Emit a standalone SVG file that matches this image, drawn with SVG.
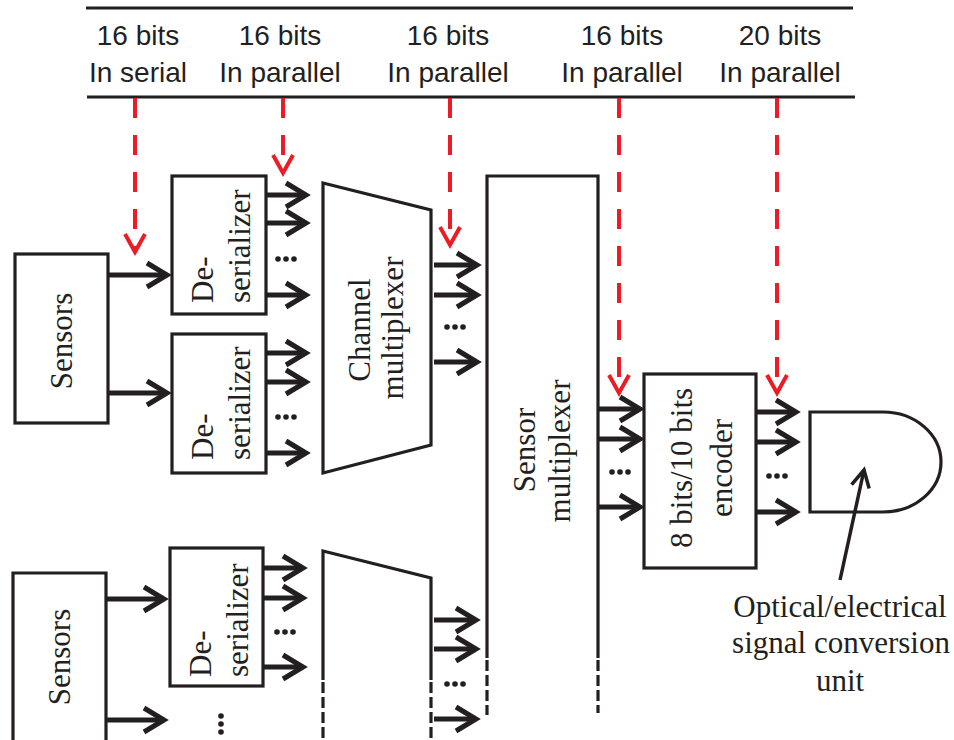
<svg xmlns="http://www.w3.org/2000/svg" width="954" height="740" viewBox="0 0 954 740">
<style>
.hdr{font-family:"Liberation Sans",Arial,sans-serif;font-size:28px;fill:#231f20;text-anchor:middle}
.lbl{font-family:"Liberation Serif","Times New Roman",serif;font-size:31px;fill:#231f20}
.mid{text-anchor:middle}
.st{text-anchor:start}
.box{fill:#fff;stroke:#231f20;stroke-width:3.2}
.ln{fill:none;stroke:#231f20;stroke-width:3.2}
.dsh{fill:none;stroke:#231f20;stroke-width:3.2;stroke-dasharray:11 4}
.arr{fill:none;stroke:#231f20;stroke-width:5;marker-end:url(#ah)}
.red{fill:none;stroke:#ed1c24;stroke-width:4;stroke-dasharray:20 17;marker-end:url(#rh)}
.dot{fill:#231f20}
</style>
<defs>
<marker id="ah" markerUnits="userSpaceOnUse" markerWidth="40" markerHeight="40" viewBox="-30 -20 40 40" refX="0" refY="0" orient="auto" overflow="visible">
<path d="M-20,-12 L0,0 L-20,12" fill="none" stroke="#231f20" stroke-width="5"/>
</marker>
<marker id="ah2" markerUnits="userSpaceOnUse" markerWidth="40" markerHeight="40" viewBox="-30 -20 40 40" refX="0" refY="0" orient="auto" overflow="visible">
<path d="M-17,-9 L0,0 L-17,9" fill="none" stroke="#231f20" stroke-width="3.5"/>
</marker>
<marker id="rh" markerUnits="userSpaceOnUse" markerWidth="40" markerHeight="40" viewBox="-30 -20 40 40" refX="0" refY="0" orient="auto" overflow="visible">
<path d="M-18,-10 L0,0 L-18,10" fill="none" stroke="#ed1c24" stroke-width="4"/>
</marker>
</defs>

<g id="header">
<line x1="86" y1="8" x2="853" y2="8" stroke="#231f20" stroke-width="3"/>
<line x1="87" y1="97" x2="855" y2="97" stroke="#231f20" stroke-width="3"/>
<text class="hdr" x="138" y="45">16 bits</text>
<text class="hdr" x="138" y="82">In serial</text>
<text class="hdr" x="280" y="45">16 bits</text>
<text class="hdr" x="280" y="82">In parallel</text>
<text class="hdr" x="448" y="45">16 bits</text>
<text class="hdr" x="448" y="82">In parallel</text>
<text class="hdr" x="622" y="45">16 bits</text>
<text class="hdr" x="622" y="82">In parallel</text>
<text class="hdr" x="780" y="45">20 bits</text>
<text class="hdr" x="780" y="82">In parallel</text>
</g>

<g id="sensors1">
<rect class="box" x="15" y="254" width="93" height="169"/>
<text class="lbl mid" transform="translate(72,341) rotate(-90)">Sensors</text>
</g>
<g id="deser1">
<rect class="box" x="172" y="176" width="94" height="138"/>
<text class="lbl st" transform="translate(213,303) rotate(-90)">De-</text>
<text class="lbl st" transform="translate(250,303) rotate(-90)">serializer</text>
</g>
<g id="deser2">
<rect class="box" x="172" y="334" width="94" height="139"/>
<text class="lbl st" transform="translate(213,460) rotate(-90)">De-</text>
<text class="lbl st" transform="translate(250,460) rotate(-90)">serializer</text>
</g>
<g id="chmux1">
<polygon class="box" points="323,183 431,210 431,445 323,473"/>
<text class="lbl mid" transform="translate(370,330) rotate(-90)">Channel</text>
<text class="lbl mid" transform="translate(403,328) rotate(-90)">multiplexer</text>
</g>
<g id="sensormux">
<path class="ln" d="M487,658 V176 H598 V658"/>
<path class="dsh" d="M487,660 V715 M598,660 V713"/>
<text class="lbl mid" transform="translate(535,450) rotate(-90)">Sensor</text>
<text class="lbl mid" transform="translate(570,451) rotate(-90)">multiplexer</text>
</g>
<g id="encoder">
<rect class="box" x="644" y="374" width="112" height="194"/>
<text class="lbl mid" transform="translate(692,468) rotate(-90)">8 bits/10 bits</text>
<text class="lbl mid" transform="translate(732,468) rotate(-90)">encoder</text>
</g>
<g id="oeunit">
<path class="box" d="M810,412 H883 A58,50 0 0 1 883,512 H810 Z"/>
<text class="lbl mid" x="840" y="617">Optical/electrical</text>
<text class="lbl mid" x="841" y="653">signal conversion</text>
<text class="lbl mid" x="840" y="691">unit</text>
</g>
<g id="sensors2">
<path class="box" d="M13,745 V573 H106 V745"/>
<text class="lbl mid" transform="translate(70,657) rotate(-90)">Sensors</text>
</g>
<g id="deser3">
<rect class="box" x="170" y="548" width="93" height="138"/>
<text class="lbl st" transform="translate(211,677) rotate(-90)">De-</text>
<text class="lbl st" transform="translate(248,677) rotate(-90)">serializer</text>
</g>
<g id="chmux2">
<path class="ln" d="M323,680 V551 L431,578 V680"/>
<path class="dsh" d="M323,682 V740 M431,682 V740"/>
</g>

<g id="connectors">
<line class="red" x1="135" y1="98" x2="135" y2="252"/>
<line class="red" x1="283" y1="98" x2="283" y2="173"/>
<line class="red" x1="450" y1="98" x2="450" y2="245"/>
<line class="red" x1="619" y1="98" x2="619" y2="393"/>
<line class="red" x1="777" y1="98" x2="777" y2="393"/>

<line class="arr" x1="108" y1="275" x2="167" y2="275"/>
<line class="arr" x1="108" y1="393" x2="167" y2="393"/>
<line class="arr" x1="266" y1="195" x2="306" y2="195"/>
<line class="arr" x1="266" y1="223" x2="306" y2="223"/>
<line class="arr" x1="266" y1="295" x2="306" y2="295"/>
<line class="arr" x1="266" y1="353" x2="306" y2="353"/>
<line class="arr" x1="266" y1="382" x2="306" y2="382"/>
<line class="arr" x1="266" y1="453" x2="306" y2="453"/>
<line class="arr" x1="434" y1="265" x2="477" y2="265"/>
<line class="arr" x1="434" y1="295" x2="477" y2="295"/>
<line class="arr" x1="434" y1="362" x2="477" y2="362"/>
<line class="arr" x1="598" y1="409" x2="640" y2="409"/>
<line class="arr" x1="598" y1="439" x2="640" y2="439"/>
<line class="arr" x1="598" y1="507" x2="640" y2="507"/>
<line class="arr" x1="756" y1="412" x2="796" y2="412"/>
<line class="arr" x1="756" y1="442" x2="796" y2="442"/>
<line class="arr" x1="756" y1="512" x2="796" y2="512"/>
<line class="arr" x1="106" y1="599" x2="164" y2="599"/>
<line class="arr" x1="106" y1="720" x2="164" y2="720"/>
<line class="arr" x1="263" y1="568" x2="303" y2="568"/>
<line class="arr" x1="263" y1="598" x2="303" y2="598"/>
<line class="arr" x1="263" y1="667" x2="303" y2="667"/>
<line class="arr" x1="434" y1="620" x2="476" y2="620"/>
<line class="arr" x1="434" y1="649" x2="476" y2="649"/>
<line class="arr" x1="434" y1="719" x2="476" y2="719"/>
<line x1="840" y1="580" x2="864" y2="470" stroke="#231f20" stroke-width="3.5" marker-end="url(#ah2)"/>

<g class="dot">
<circle cx="278" cy="259" r="2.8"/><circle cx="286" cy="259" r="2.8"/><circle cx="294" cy="259" r="2.8"/>
<circle cx="278" cy="417" r="2.8"/><circle cx="286" cy="417" r="2.8"/><circle cx="294" cy="417" r="2.8"/>
<circle cx="447" cy="327" r="2.8"/><circle cx="455" cy="327" r="2.8"/><circle cx="463" cy="327" r="2.8"/>
<circle cx="612" cy="472" r="2.8"/><circle cx="620" cy="472" r="2.8"/><circle cx="628" cy="472" r="2.8"/>
<circle cx="769" cy="476" r="2.8"/><circle cx="777" cy="476" r="2.8"/><circle cx="785" cy="476" r="2.8"/>
<circle cx="277" cy="632" r="2.8"/><circle cx="285" cy="632" r="2.8"/><circle cx="293" cy="632" r="2.8"/>
<circle cx="447" cy="684" r="2.8"/><circle cx="455" cy="684" r="2.8"/><circle cx="463" cy="684" r="2.8"/>
<circle cx="221" cy="716" r="2.8"/><circle cx="221" cy="724" r="2.8"/><circle cx="221" cy="732" r="2.8"/>
</g>
</g>
</svg>
